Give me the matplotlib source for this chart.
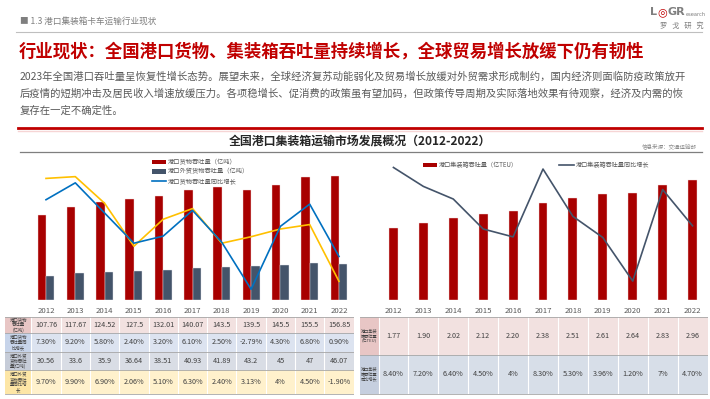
import matplotlib
matplotlib.use("Agg")
import matplotlib.pyplot as plt
from matplotlib.patches import Patch, Rectangle
from matplotlib.lines import Line2D

plt.rcParams['font.family'] = ['Noto Sans CJK SC', 'DejaVu Sans']

# ---------------- data ----------------
years = ['2012', '2013', '2014', '2015', '2016', '2017', '2018', '2019', '2020', '2021', '2022']
cargo = [107.76, 117.67, 124.52, 127.5, 132.01, 140.07, 143.5, 139.5, 145.5, 155.5, 156.85]
cargo_yoy = [7.30, 9.20, 5.80, 2.40, 3.20, 6.10, 2.50, -2.79, 4.30, 6.80, 0.90]
foreign = [30.56, 33.6, 35.9, 36.64, 38.51, 40.93, 41.89, 43.2, 45, 47, 46.07]
foreign_yoy = [9.70, 9.90, 6.90, 2.06, 5.10, 6.30, 2.40, 3.13, 4, 4.50, -1.90]
teu = [1.77, 1.90, 2.02, 2.12, 2.20, 2.38, 2.51, 2.61, 2.64, 2.83, 2.96]
teu_yoy = [8.40, 7.20, 6.40, 4.50, 4, 8.30, 5.30, 3.96, 1.20, 7, 4.70]

left_row_labels = ['港口货物\n吞吐量\n(亿吨)', '港口货物\n吞吐量同\n比增长',
                   '港口外贸\n货物吞吐\n量(亿吨)', '港口外贸\n货物吞吐\n量同比增\n长']
right_row_labels = ['港口集装\n箱吞吐量\n(亿TEU)', '港口集装\n箱吞吐量\n同比增长']

legend_left = ['港口货物吞吐量（亿吨）', '港口外贸货物吞吐量（亿吨）', '港口货物吞吐量同比增长']
legend_right = ['港口集装箱吞吐量（亿TEU）', '港口集装箱吞吐量同比增长']

header = '■ 1.3 港口集装箱卡车运输行业现状'
title = '行业现状：全国港口货物、集装箱吞吐量持续增长，全球贸易增长放缓下仍有韧性'
body = ['2023年全国港口吞吐量呈恢复性增长态势。展望未来，全球经济复苏动能弱化及贸易增长放缓对外贸需求形成制约，国内经济则面临防疫政策放开',
        '后疫情的短期冲击及居民收入增速放缓压力。各项稳增长、促消费的政策虽有望加码，但政策传导周期及实际落地效果有待观察，经济及内需的恢',
        '复存在一定不确定性。']
chart_title = '全国港口集装箱运输市场发展概况（2012-2022）'
source = '信息来源：交通运输部'

# ---------------- helpers ----------------
W, H = 710, 399
RED = '#A80000'
SLATE = '#44546A'
BLUE = '#0070C0'
YELLOW = '#FFC000'


def rect(x0, y0, x1, y1):
    return [x0 / W, 1 - y1 / H, (x1 - x0) / W, (y1 - y0) / H]


def fx(x):
    return x / W


def fy(y):
    return 1 - y / H


def fmt_num(v):
    return f'{v:g}'


def fmt_pct(v):
    return f'{int(v)}%' if float(v).is_integer() else f'{v:.2f}%'


fig = plt.figure(figsize=(7.1, 3.99), dpi=100)
fig.patch.set_facecolor('white')

# ---------------- header area ----------------
fig.text(fx(20), fy(21), header, fontsize=6.2, color='#7F7F7F', ha='left', va='center')
fig.add_artist(Line2D([fx(16), fx(702)], [fy(32), fy(32)], color='#BFBFBF', lw=0.8))
# logo
fig.text(fx(650), fy(12), 'L', fontsize=8, color='#7F7F7F', fontweight='bold', ha='left', va='center', family='DejaVu Sans')
fig.text(fx(657), fy(12), '◎', fontsize=8, color='#C00000', fontweight='bold', ha='left', va='center', family='DejaVu Sans')
fig.text(fx(667), fy(12), 'GR', fontsize=8, color='#7F7F7F', fontweight='bold', ha='left', va='center', family='DejaVu Sans')
fig.text(fx(686), fy(14), 'esearch', fontsize=3.7, color='#7F7F7F', ha='left', va='center', family='DejaVu Sans')
fig.text(fx(704), fy(26), '罗   戈   研   究', fontsize=5.2, color='#7F7F7F', ha='right', va='center')

fig.text(fx(19), fy(52), title, fontsize=12.5, color='#C00000', fontweight='bold', ha='left', va='center')
for i, line in enumerate(body):
    fig.text(fx(20), fy(77 + 17 * i), line, fontsize=7.45, color='#595959', ha='left', va='center')

fig.add_artist(Line2D([fx(18), fx(702)], [fy(127.5), fy(127.5)], color='#C00000', lw=2.0))
fig.add_artist(Line2D([fx(18), fx(702)], [fy(130.5), fy(130.5)], color='#F6D5D5', lw=1.0))

fig.text(fx(360), fy(141), chart_title, fontsize=8.6, color='#262626', fontweight='bold', ha='center', va='center')
fig.text(fx(697), fy(146), source, fontsize=4, color='#8C8C8C', ha='right', va='center')
fig.add_artist(Line2D([fx(20), fx(702)], [fy(152.5), fy(152.5)], color='#7F7F7F', lw=0.9))

x_idx = list(range(len(years)))

# ---------------- left chart ----------------
L0, L1 = 31.35, 353.65
ax1 = fig.add_axes(rect(L0, 158, L1, 300))
ax1.set_xlim(-0.5, 10.5)
ax1.set_ylim(0, 180)
ax1.axis('off')
bw = 0.29
ax1.bar([i - bw / 2 for i in x_idx], cargo, width=bw, color=RED, edgecolor='#F4DADA', linewidth=0.3, zorder=2)
ax1.bar([i + bw / 2 for i in x_idx], foreign, width=bw, color=SLATE, edgecolor='#E3E6EC', linewidth=0.3, zorder=2)
ax1.axhline(0, color='#D9D9D9', lw=0.6, zorder=1)
ax1b = ax1.twinx()
ax1b.set_ylim(-4, 12)
ax1b.axis('off')
ax1b.plot(x_idx, foreign_yoy, color=YELLOW, lw=1.2, zorder=3)
ax1b.plot(x_idx, cargo_yoy, color=BLUE, lw=1.2, zorder=4)
handles = [Patch(facecolor=RED), Patch(facecolor=SLATE), Line2D([], [], color=BLUE, lw=1.2)]
ax1b.legend(handles, legend_left, loc='upper left', bbox_to_anchor=(fx(152), fy(158)),
            bbox_transform=fig.transFigure, fontsize=4.5, frameon=False, handlelength=2.2,
            handleheight=0.7, handletextpad=0.3, labelspacing=0.28, borderpad=0, borderaxespad=0,
            labelcolor='#595959')

# ---------------- left table ----------------
colw = (L1 - L0) / 11
tl = fig.add_axes(rect(5, 303, L1, 396))
tl.set_xlim(-0.5 - (L0 - 5) / colw, 10.5)
tl.set_ylim(396, 303)
tl.axis('off')
rows_l = [(317, 333), (333, 352), (352, 370), (370, 394)]
label_cols = ['#E8C6C5', '#C7D4EA', '#C6CCD8', '#FDE6A6']
data_cols = ['#F2E1E0', '#DCE3F0', '#D9DDE5', '#FFF1CC']
vals_l = [[fmt_num(v) for v in cargo], [fmt_pct(v) for v in cargo_yoy],
          [fmt_num(v) for v in foreign], [fmt_pct(v) for v in foreign_yoy]]
xl_left = tl.get_xlim()[0]
for i, y in enumerate(years):
    tl.text(i, 311, y, fontsize=5.6, color='#595959', ha='center', va='center')
for r, (y0, y1) in enumerate(rows_l):
    tl.add_patch(Rectangle((xl_left, y0), -0.5 - xl_left, y1 - y0, facecolor=label_cols[r], edgecolor='none'))
    tl.add_patch(Rectangle((-0.5, y0), 11, y1 - y0, facecolor=data_cols[r], edgecolor='none'))
    tl.text((xl_left - 0.5) / 2, (y0 + y1) / 2, left_row_labels[r], fontsize=3.2, color='#404040',
            ha='center', va='center', linespacing=1.05)
    for i in x_idx:
        tl.text(i, (y0 + y1) / 2, vals_l[r][i], fontsize=5.2, color='#404040', ha='center', va='center')
for i in range(-1, 10):
    tl.plot([i + 0.5, i + 0.5], [rows_l[0][0], rows_l[-1][1]], color='white', lw=0.8)
for yb in [rows_l[0][0]] + [r[1] for r in rows_l]:
    tl.plot([xl_left, 10.5], [yb, yb], color='#A6A6A6', lw=0.6)

# ---------------- right chart ----------------
R0, R1 = 378.5, 707.5
ax2 = fig.add_axes(rect(R0, 158, R1, 300))
ax2.set_xlim(-0.5, 10.5)
ax2.set_ylim(0, 3.5)
ax2.axis('off')
ax2.bar(x_idx, teu, width=0.3, color=RED, edgecolor='#F4DADA', linewidth=0.3, zorder=2)
ax2.axhline(0, color='#D9D9D9', lw=0.6, zorder=1)
ax2b = ax2.twinx()
ax2b.set_ylim(0, 9)
ax2b.axis('off')
ax2b.plot(x_idx, teu_yoy, color=SLATE, lw=1.2, zorder=3)
handles2 = [Patch(facecolor=RED), Line2D([], [], color=SLATE, lw=1.2)]
ax2b.legend(handles2, legend_right, loc='upper left', bbox_to_anchor=(fx(423), fy(161)),
            bbox_transform=fig.transFigure, fontsize=4.4, frameon=False, ncol=2, handlelength=2.3,
            handleheight=0.7, handletextpad=0.3, columnspacing=6.8, borderpad=0, borderaxespad=0,
            labelcolor='#595959')

# ---------------- right table ----------------
colw2 = (R1 - R0) / 11
tr = fig.add_axes(rect(360, 303, R1, 396))
tr.set_xlim(-0.5 - (R0 - 360) / colw2, 10.5)
tr.set_ylim(396, 303)
tr.axis('off')
rows_r = [(317, 355), (355, 394)]
label_cols_r = ['#E8C6C5', '#C6CFDF']
data_cols_r = ['#F2E1E0', '#D7DEE8']
vals_r = [[f'{v:.2f}' for v in teu], [fmt_pct(v) for v in teu_yoy]]
xr_left = tr.get_xlim()[0]
for i, y in enumerate(years):
    tr.text(i, 311, y, fontsize=5.6, color='#595959', ha='center', va='center')
for r, (y0, y1) in enumerate(rows_r):
    tr.add_patch(Rectangle((xr_left, y0), -0.5 - xr_left, y1 - y0, facecolor=label_cols_r[r], edgecolor='none'))
    tr.add_patch(Rectangle((-0.5, y0), 11, y1 - y0, facecolor=data_cols_r[r], edgecolor='none'))
    tr.text((xr_left - 0.5) / 2, (y0 + y1) / 2, right_row_labels[r], fontsize=3.0, color='#404040',
            ha='center', va='center', linespacing=1.05)
    for i in x_idx:
        tr.text(i, (y0 + y1) / 2, vals_r[r][i], fontsize=5.2, color='#404040', ha='center', va='center')
for i in range(-1, 10):
    tr.plot([i + 0.5, i + 0.5], [rows_r[0][0], rows_r[-1][1]], color='white', lw=0.8)
for yb in [rows_r[0][0]] + [r[1] for r in rows_r]:
    tr.plot([xr_left, 10.5], [yb, yb], color='#A6A6A6', lw=0.6)

fig.savefig('out.png', dpi=100)
